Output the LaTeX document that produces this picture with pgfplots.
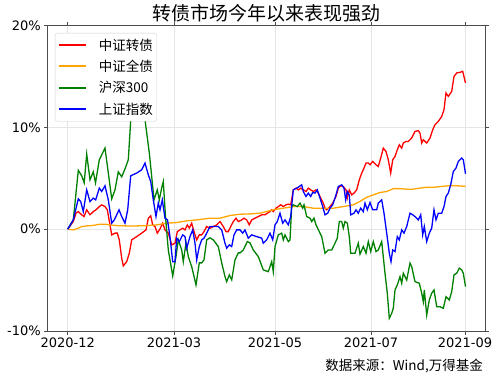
\documentclass[border=0pt]{standalone}
\usepackage{pgfplots}
\pgfplotsset{compat=1.18}
\usepackage{fontspec}
\setmainfont{DejaVu Sans}
\newfontfamily\cjk{Noto Sans CJK SC}
\definecolor{cOrange}{HTML}{FFA500}
\definecolor{cGreen}{HTML}{008000}
\definecolor{cBlue}{HTML}{0000FF}
\definecolor{cRed}{HTML}{FF0000}
\definecolor{legframe}{HTML}{D0D0D0}
\newcommand{\legtext}[2]{\textcolor{#1}{\rule[4.2pt]{27pt}{2pt}}\hspace{13.3pt}#2}
\begin{document}
\begin{tikzpicture}
\path[use as bounding box] (-47.7pt,-42pt) rectangle (452.3pt,331pt);
\begin{axis}[
 at={(0pt,0pt)}, anchor=south west,
 scale only axis, width=437.3pt, height=305.5pt,
 clip mode=individual,
 xmin=-20, xmax=417.3, ymin=-10, ymax=20,
 xtick={0,106.3,207.3,303.3,397.3},
 xticklabels={2020-12,2021-03,2021-05,2021-07,2021-09},
 ytick={-10,0,10,20},
 yticklabels={-10\%,0\%,10\%,20\%},
 grid=major, grid style={black!10, line width=0.6pt},
 axis line style={black!70, line width=0.8pt},
 tick align=outside, major tick length=3.5pt,
 tick style={black!70, line width=0.8pt},
 ticklabel style={font=\fontsize{13}{13}\selectfont},
 legend cell align=left,
 legend style={at={(0.0167,0.9755)}, anchor=north west, draw=legframe,
   rounded corners=2pt, fill=white,
   font=\cjk\fontsize{13.5}{13.5}\selectfont, inner xsep=1.5pt, inner ysep=3.5pt,
   row sep=4.5pt, /tikz/every odd column/.append style={column sep=0pt}},
 every axis plot/.append style={line width=1.3pt, no markers},
]
\addplot[cRed, forget plot] coordinates {
(0,0) (5.6,0.75) (8.3,1.57) (10.6,1.73) (14.0,1.41) (16.3,1.24) (19.0,1.90) (22.3,1.41)
(25.6,1.73) (28.3,1.90) (31.6,2.22) (34.0,2.39) (37.3,2.22) (39.6,1.90) (42.3,0.42) (44.0,-0.56)
(47.3,-0.39) (49.6,-0.39) (51.6,-1.05) (54.0,-2.85) (55.6,-3.61) (59.0,-3.19) (61.6,-2.36) (64.0,-1.05)
(69.0,-0.73) (74.0,-0.39) (78.3,-0.07) (80.6,1.08) (83.0,1.31) (85.0,0.42) (87.3,0.26) (89.6,-0.39)
(92.3,0.03) (95.0,0.59) (97.3,-0.07) (100.6,-0.39) (104.0,-1.54) (107.3,-1.38) (109.6,-0.24) (112.3,-0.07)
(115.0,0.10) (117.3,-0.07) (119.6,0.42) (121.6,0.10) (124.0,0.59) (126.3,-0.24) (129.0,-1.05) (131.6,-0.56)
(134.0,-0.56) (136.3,-0.24) (139.0,0.26) (142.3,0.10) (145.6,0.26) (149.0,0.42) (152.3,0.75) (155.6,0.26)
(158.3,-0.24) (160.6,-0.24) (163.0,0.26) (165.6,0.75) (168.3,1.08) (170.6,0.75) (174.0,0.91) (176.3,1.08)
(179.0,0.91) (181.6,0.42) (184.0,0.91) (187.3,1.08) (190.6,1.24) (194.0,1.41) (197.3,1.41) (199.6,1.57)
(202.3,1.73) (204.0,1.90) (205.6,1.73) (208.3,2.06) (210.6,2.22) (213.0,2.39) (215.6,2.22) (218.3,2.39)
(220.6,2.46) (223.0,2.39) (225.6,3.86) (228.3,4.03) (230.6,3.86) (233.0,4.03) (235.6,3.86) (238.3,3.70)
(240.6,4.03) (243.0,3.86) (245.6,3.70) (248.3,3.86) (250.6,3.54) (253.0,3.05) (255.6,2.56) (257.3,2.06)
(259.0,1.90) (262.3,2.22) (265.0,2.56) (268.3,3.21) (270.6,4.03) (273.0,4.26) (275.6,4.19) (278.3,3.86)
(279.6,3.05) (281.6,3.86) (284.0,3.37) (286.3,3.54) (289.0,3.86) (291.6,4.85) (294.0,5.50) (296.3,6.00)
(298.3,6.49) (300.6,6.49) (302.3,6.32) (305.0,6.65) (308.3,6.32) (310.6,6.16) (313.0,6.98) (315.6,7.96)
(318.3,7.63) (320.6,6.81) (323.0,5.51) (325.0,6.81) (327.3,7.14) (329.6,7.80) (331.6,8.29) (334.0,7.96)
(335.6,8.46) (338.3,8.61) (340.6,8.61) (344.0,8.95) (347.3,9.60) (350.6,9.67) (352.3,9.44) (354.0,8.46)
(355.6,8.78) (359.0,8.46) (362.3,8.95) (365.0,9.76) (367.3,10.26) (370.6,10.58) (374.0,11.07) (376.3,11.73)
(378.3,13.37) (380.6,13.04) (384.0,13.53) (386.3,15.00) (389.0,15.34) (392.3,15.40) (395.0,15.50) (397.8,14.36)
};
\addplot[cOrange, forget plot] coordinates {
(0,0) (5.6,-0.07) (10.6,0.10) (14.0,0.26) (19.0,0.32) (25.6,0.37) (32.3,0.49) (37.3,0.49)
(42.3,0.42) (49.0,0.35) (59.0,0.32) (69.0,0.32) (79.0,0.35) (89.0,0.42) (99.0,0.59) (109.0,0.65)
(119.0,0.82) (129.0,0.91) (142.3,1.08) (152.3,1.08) (162.3,1.34) (172.3,1.47) (182.3,1.50) (192.3,1.57)
(205.6,1.90) (215.6,2.06) (225.6,2.22) (235.6,2.22) (245.6,2.06) (255.6,2.06) (265.6,2.06) (275.6,2.22)
(285.6,2.39) (292.3,2.73) (299.0,3.13) (305.6,3.37) (312.3,3.60) (319.0,3.70) (325.6,3.98) (332.3,3.98)
(339.0,3.93) (345.6,3.93) (352.3,4.03) (359.0,4.11) (365.6,4.11) (375.6,4.21) (382.3,4.28) (389.0,4.26)
(397.8,4.21)
};
\addplot[cGreen, forget plot] coordinates {
(0,0) (5.6,0.91) (10.6,5.78) (14.0,5.24) (16.5,4.55) (19.0,7.37) (22.3,4.85) (25.6,5.63)
(27.8,4.55) (31.6,6.81) (37.3,7.96) (40.6,5.54) (44.0,2.98) (47.3,3.86) (50.6,5.63) (54.0,5.14)
(57.3,5.93) (60.6,6.81) (63.5,11.44) (66.3,11.52) (70.3,11.13) (74.0,10.99) (77.3,10.74) (81.6,7.50)
(84.0,5.17) (86.3,2.88) (89.6,3.86) (91.6,2.88) (94.0,4.06) (95.6,4.68) (97.8,1.21) (100.6,-2.04)
(105.0,-4.59) (108.3,-2.69) (110.6,-1.05) (114.0,-2.04) (115.6,-3.19) (118.3,-1.35) (120.6,-2.69) (124.0,-3.68)
(128.3,-5.48) (131.6,-3.31) (134.0,-3.31) (136.3,-3.02) (139.0,-1.05) (142.3,-0.85) (145.6,-1.05) (150.6,-1.71)
(154.0,-3.31) (157.3,-4.66) (159.0,-5.15) (161.6,-4.49) (164.0,-4.98) (167.3,-3.02) (170.6,-2.33) (172.3,-2.33)
(175.6,-2.04) (179.6,-1.22) (182.3,-1.35) (185.6,-2.04) (190.6,-2.69) (195.6,-4.00) (200.6,-4.17) (204.0,-3.19)
(205.6,-4.17) (207.3,-1.71) (210.6,-0.56) (214.0,-0.39) (215.6,-1.05) (217.3,-0.56) (220.6,-1.22) (222.3,-1.05)
(224.0,2.22) (225.6,2.39) (229.6,2.22) (232.3,2.56) (235.0,2.06) (236.3,2.39) (239.0,1.24) (242.3,1.08)
(244.0,0.75) (246.3,1.08) (248.3,0.42) (251.6,-0.24) (254.0,-0.73) (257.3,-2.36) (260.6,-2.04) (264.0,-2.04)
(267.3,-1.38) (269.6,-0.88) (271.6,0.75) (274.0,0.75) (275.6,0.10) (277.3,0.75) (279.6,0.59) (281.6,-0.73)
(283.0,-2.36) (287.3,-2.36) (290.6,-1.38) (292.3,-2.45) (295.6,-1.71) (298.3,-2.36) (300.6,-1.22) (303.0,-2.20)
(305.6,-1.22) (308.3,-2.20) (310.6,-2.04) (314.0,-1.22) (317.3,-4.33) (319.6,-6.29) (321.6,-8.75) (324.0,-8.26)
(325.6,-7.77) (327.3,-5.97) (329.6,-5.48) (332.3,-4.66) (334.0,-5.31) (335.6,-4.33) (339.0,-4.99) (342.3,-3.34)
(344.0,-3.68) (347.3,-5.15) (351.6,-5.31) (354.0,-6.29) (355.6,-7.12) (356.6,-5.97) (359.0,-8.43) (361.6,-6.95)
(364.0,-6.29) (366.3,-5.97) (369.0,-7.61) (372.3,-7.61) (375.6,-7.77) (378.3,-6.63) (381.6,-6.95) (384.0,-6.14)
(386.3,-4.49) (389.0,-4.33) (391.6,-3.83) (394.0,-4.00) (395.6,-4.33) (397.8,-5.64)
};
\addplot[cBlue, forget plot] coordinates {
(0,0) (5.6,0.91) (10.6,2.98) (13.0,2.71) (15.6,1.73) (19.0,3.86) (22.3,2.71) (25.6,3.05)
(28.0,2.88) (31.6,4.03) (34.0,3.70) (37.3,4.26) (40.6,2.88) (44.0,0.59) (46.6,0.91) (49.0,1.41)
(51.3,1.90) (54.0,1.24) (57.3,0.59) (60.0,1.90) (63.0,5.24) (69.0,5.51) (74.0,5.83) (77.3,6.49)
(80.6,5.34) (83.0,4.68) (85.6,2.88) (88.3,1.24) (90.6,2.56) (92.3,1.90) (94.6,2.88) (97.3,1.08)
(99.8,0.91) (102.3,-0.76) (105.0,-3.19) (107.3,-3.19) (109.0,-0.88) (111.6,-1.22) (115.0,-0.56) (117.3,-0.73)
(119.0,-1.87) (122.3,-0.73) (125.0,-0.07) (127.3,-1.38) (129.0,-3.02) (131.6,-1.71) (134.0,-1.05) (136.3,-0.88)
(139.0,-0.39) (142.3,0.26) (146.3,0.26) (150.6,0.26) (154.0,-0.07) (157.3,-1.38) (159.0,-1.87) (161.6,-1.54)
(164.0,-1.71) (166.3,-0.56) (169.0,-0.07) (172.3,-0.07) (175.0,-0.39) (177.3,-0.07) (180.6,-0.88) (184.0,-0.56)
(189.0,-0.73) (194.0,-0.88) (195.6,-1.38) (199.0,-1.05) (202.3,-0.39) (205.0,-1.05) (207.3,0.42) (209.6,0.75)
(212.3,1.57) (215.0,0.59) (217.3,0.91) (220.6,0.42) (223.0,1.24) (225.6,3.86) (229.0,4.03) (231.6,4.19)
(234.0,4.36) (235.6,3.70) (238.3,3.21) (240.6,3.54) (243.0,3.21) (245.0,3.60) (247.3,3.54) (249.6,3.86)
(252.3,3.05) (255.0,2.22) (257.3,1.41) (260.0,1.57) (262.3,2.06) (265.0,2.39) (268.3,3.37) (270.6,4.19)
(274.0,4.36) (276.3,4.03) (278.0,2.88) (279.6,3.70) (281.6,3.37) (283.0,1.41) (286.3,1.57) (288.3,1.90)
(290.6,1.57) (293.0,2.06) (295.6,1.73) (297.3,2.56) (299.6,1.90) (302.3,2.62) (305.0,1.90) (309.0,1.90)
(310.6,2.56) (314.0,2.88) (316.3,1.57) (319.0,-0.39) (321.6,-2.36) (323.3,-3.19) (325.0,-2.04) (327.3,-2.20)
(329.6,-0.73) (331.6,-1.05) (334.0,-0.07) (336.3,-0.39) (339.0,0.26) (342.3,1.57) (345.0,1.41) (347.3,1.24)
(350.6,0.91) (353.0,1.41) (355.0,-0.56) (356.6,0.26) (359.0,-1.22) (361.6,-0.39) (364.0,0.10) (366.3,1.90)
(368.3,0.91) (370.6,1.57) (374.0,1.57) (376.3,2.22) (378.3,3.21) (380.6,3.54) (383.0,4.36) (385.6,5.66)
(388.3,6.00) (390.6,6.65) (394.0,6.98) (395.6,6.81) (397.8,5.44)
};
\addlegendimage{empty legend}\addlegendentry{\legtext{cRed}{中证转债}}
\addlegendimage{empty legend}\addlegendentry{\legtext{cOrange}{中证全债}}
\addlegendimage{empty legend}\addlegendentry{\legtext{cGreen}{沪深300}}
\addlegendimage{empty legend}\addlegendentry{\legtext{cBlue}{上证指数}}
\node[anchor=base, inner sep=0pt, font=\cjk\fontsize{19}{19}\selectfont]
  at (rel axis cs:0.5,1) [yshift=5pt] {转债市场今年以来表现强劲};
\node[anchor=base east, inner sep=0pt, font=\cjk\fontsize{13.5}{13.5}\selectfont]
  at (rel axis cs:1,0) [xshift=-2pt, yshift=-39pt] {数据来源：Wind,万得基金};
\end{axis}
\end{tikzpicture}
\end{document}
